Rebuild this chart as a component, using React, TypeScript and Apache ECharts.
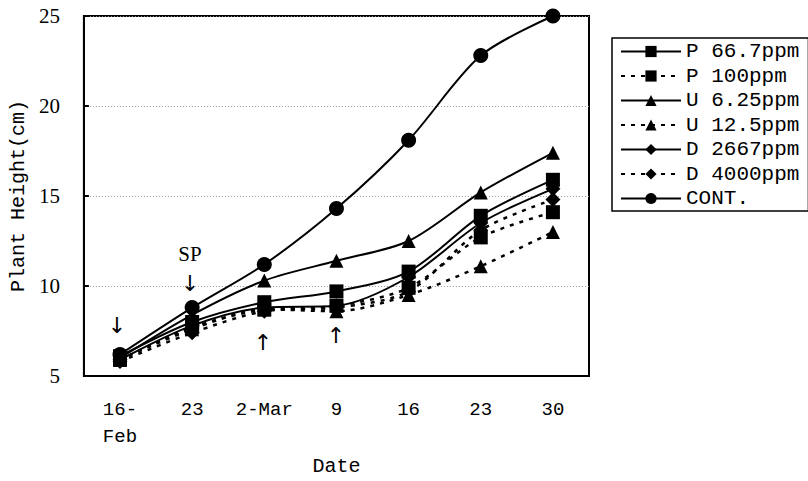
import React, { useEffect, useRef } from "react";
import * as echarts from "echarts";

const categories = ["16-Feb", "23-Feb", "2-Mar", "9-Mar", "16-Mar", "23-Mar", "30-Mar"];
const tickLabels = ["16-\nFeb", "23", "2-Mar", "9", "16", "23", "30"];

const seriesNames = ["P 66.7ppm", "P 100ppm", "U 6.25ppm", "U 12.5ppm", "D 2667ppm", "D 4000ppm", "CONT."];
const p667 = [6.1, 8.0, 9.1, 9.7, 10.8, 13.9, 15.9];
const p100 = [5.9, 7.7, 8.7, 8.9, 9.9, 12.7, 14.1];
const u625 = [6.0, 8.4, 10.3, 11.4, 12.5, 15.2, 17.4];
const u125 = [5.9, 7.6, 8.7, 8.6, 9.5, 11.1, 13.0];
const d2667 = [5.9, 7.8, 8.8, 8.9, 10.5, 13.5, 15.4];
const d4000 = [5.8, 7.4, 8.6, 8.8, 9.7, 13.1, 14.8];
const cont = [6.2, 8.8, 11.2, 14.3, 18.1, 22.8, 25.0];

const seriesValues = [p667, p100, u625, u125, d2667, d4000, cont];
const symbols = ["rect", "rect", "triangle", "triangle", "diamond", "diamond", "circle"];
const dashed = [false, true, false, true, false, true, false];

const MONO = "'Liberation Mono', 'DejaVu Sans Mono', monospace";
const SERIF = "'Liberation Serif', 'DejaVu Serif', serif";

export default function App() {
  const ref = useRef<HTMLDivElement>(null);
  useEffect(() => {
    if (!ref.current) return;
    const chart = echarts.init(ref.current, undefined, { renderer: "svg" });
    const series = seriesNames.map((name, i) => ({
      name,
      type: "line",
      data: seriesValues[i],
      smooth: 0.3,
      symbol: symbols[i],
      symbolSize: symbols[i] === "diamond" ? 15 : symbols[i] === "circle" ? 15 : 14,
      itemStyle: { color: "#000" },
      lineStyle: {
        color: "#000",
        width: dashed[i] ? 2.5 : 2,
        type: dashed[i] ? [4, 6] : "solid",
      },
      z: 10 - i,
    }));
    chart.setOption({
      animation: false,
      backgroundColor: "#fff",
      grid: {
        left: 83,
        top: 16,
        right: 219,
        bottom: 99,
        show: true,
        borderColor: "#000",
        borderWidth: 2,
      },
      xAxis: {
        type: "category",
        data: categories,
        boundaryGap: true,
        name: "Date",
        nameLocation: "middle",
        nameGap: 80,
        nameTextStyle: { fontFamily: MONO, fontSize: 20, color: "#000" },
        axisLine: { lineStyle: { color: "#000", width: 2 } },
        axisTick: { inside: true, length: 7, lineStyle: { color: "#000", width: 2 } },
        axisLabel: {
          interval: 0,
          fontFamily: MONO,
          fontSize: 19,
          color: "#000",
          margin: 20,
          lineHeight: 27,
          formatter: (_v: string, idx: number) => tickLabels[idx],
          verticalAlign: "top",
        },
        splitLine: { show: false },
      },
      yAxis: {
        type: "value",
        min: 5,
        max: 25,
        interval: 5,
        name: "Plant Height(cm)",
        nameLocation: "middle",
        nameGap: 40,
        nameRotate: 90,
        nameTextStyle: { fontFamily: MONO, fontSize: 20, color: "#000" },
        axisLine: { show: true, lineStyle: { color: "#000", width: 2 } },
        axisTick: { show: true, inside: true, length: 5, lineStyle: { color: "#000", width: 2 } },
        axisLabel: { fontFamily: SERIF, fontSize: 21, color: "#000", margin: 24 },
        splitLine: { show: true, lineStyle: { color: "#999", width: 1, type: [1, 2] } },
      },
      legend: {
        orient: "vertical",
        left: 612,
        top: 38,
        data: seriesNames,
        itemWidth: 60,
        itemHeight: 14,
        itemGap: 3.5,
        padding: [3, 9, 2, 8],
        borderColor: "#000",
        borderWidth: 1.5,
        backgroundColor: "#fff",
        textStyle: { fontFamily: MONO, fontSize: 21, color: "#000" },
      },
      graphic: [
        { type: "text", x: 117, y: 325, style: { text: "↓", font: "22px 'DejaVu Sans'", fill: "#000", align: "center", verticalAlign: "middle" } },
        { type: "text", x: 190, y: 254, style: { text: "SP", font: "21px " + SERIF, fill: "#000", align: "center", verticalAlign: "middle" } },
        { type: "text", x: 190, y: 283, style: { text: "↓", font: "22px 'DejaVu Sans'", fill: "#000", align: "center", verticalAlign: "middle" } },
        { type: "text", x: 263, y: 342, style: { text: "↑", font: "22px 'DejaVu Sans'", fill: "#000", align: "center", verticalAlign: "middle" } },
        { type: "text", x: 336, y: 335, style: { text: "↑", font: "22px 'DejaVu Sans'", fill: "#000", align: "center", verticalAlign: "middle" } },
      ],
      series,
    });
    return () => chart.dispose();
  }, []);
  return (
    <div
      ref={ref}
      style={{ position: "fixed", left: 0, top: 0, width: 808, height: 481, background: "#fff" }}
    />
  );
}
